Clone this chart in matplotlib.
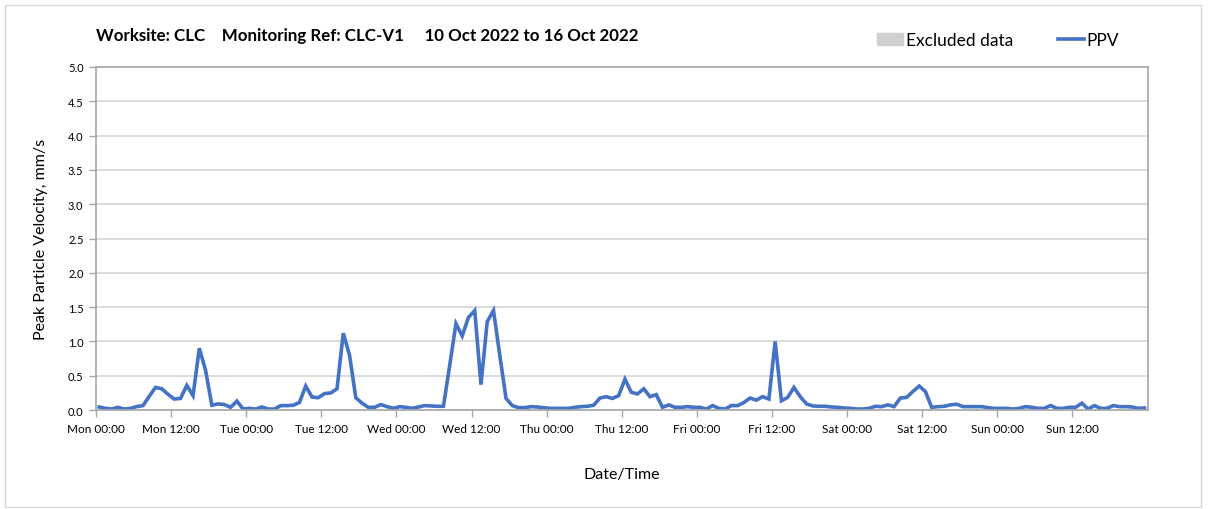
import matplotlib.pyplot as plt
import matplotlib.patches as mpatches
from matplotlib.lines import Line2D
import numpy as np

plt.rcParams['font.family'] = ['Lato', 'DejaVu Sans']

# hourly PPV readings, Mon 10 Oct 00:00 .. Sun 16 Oct 23:00 (mm/s)
mon = [0.045, 0.025, 0.015, 0.04, 0.015, 0.025, 0.05, 0.065, 0.20, 0.33, 0.31, 0.23,
       0.16, 0.17, 0.36, 0.21, 0.90, 0.58, 0.07, 0.09, 0.08, 0.04, 0.13, 0.015]
tue = [0.025, 0.015, 0.045, 0.015, 0.015, 0.065, 0.065, 0.07, 0.11, 0.35, 0.19, 0.18,
       0.24, 0.25, 0.31, 1.12, 0.80, 0.18, 0.10, 0.04, 0.04, 0.08, 0.05, 0.025]
wed = [0.05, 0.04, 0.025, 0.045, 0.065, 0.06, 0.055, 0.055, 0.65, 1.26, 1.08, 1.35,
       1.45, 0.37, 1.29, 1.45, 0.80, 0.17, 0.065, 0.035, 0.035, 0.05, 0.045, 0.035]
thu = [0.025, 0.025, 0.025, 0.025, 0.04, 0.05, 0.055, 0.07, 0.175, 0.195, 0.17, 0.21,
       0.45, 0.26, 0.235, 0.31, 0.195, 0.225, 0.04, 0.075, 0.04, 0.04, 0.05, 0.04]
fri = [0.04, 0.015, 0.065, 0.025, 0.015, 0.065, 0.065, 0.11, 0.175, 0.145, 0.195, 0.16,
       1.0, 0.135, 0.185, 0.33, 0.195, 0.09, 0.06, 0.055, 0.055, 0.045, 0.04, 0.03]
sat = [0.025, 0.015, 0.015, 0.025, 0.055, 0.05, 0.075, 0.05, 0.175, 0.185, 0.27, 0.35,
       0.27, 0.04, 0.05, 0.055, 0.075, 0.085, 0.05, 0.05, 0.05, 0.05, 0.035, 0.025]
sun = [0.025, 0.025, 0.015, 0.025, 0.05, 0.04, 0.025, 0.025, 0.065, 0.025, 0.025, 0.04,
       0.04, 0.10, 0.015, 0.065, 0.025, 0.025, 0.065, 0.05, 0.05, 0.045, 0.025, 0.03]
ppv = np.array(mon + tue + wed + thu + fri + sat + sun)

days = ['Mon', 'Tue', 'Wed', 'Thu', 'Fri', 'Sat', 'Sun']
tick_labels = [f'{d} {t}' for d in days for t in ['00:00', '12:00']]

hours = np.arange(len(ppv)) + 0.5  # readings stamped around half past the hour

fig = plt.figure(figsize=(12.08, 5.10), dpi=100)
ax = fig.add_axes([0.0795, 0.194, 0.8705, 0.6727])

ax.plot(hours, ppv, color='#4472C4', lw=2.6, solid_joinstyle='miter')

ax.set_xlim(0, 168)
ax.set_ylim(0, 5)
ax.set_yticks(np.arange(0, 5.01, 0.5))
ax.set_yticklabels([f'{v:.1f}' for v in np.arange(0, 5.01, 0.5)], fontsize=8)
ax.set_xticks(np.arange(0, 168, 12))
ax.set_xticklabels(tick_labels, fontsize=8.5)
ax.set_xticks(np.arange(24, 168, 24), minor=True)
ax.tick_params(axis='x', which='minor', length=0)
ax.tick_params(axis='both', which='major', color='#a6a6a6', length=5, width=1, pad=4)

ax.grid(axis='y', color='#d9d9d9', lw=1.3)
ax.grid(axis='x', which='minor', color='#d9d9d9', lw=1.3)
ax.set_axisbelow(True)
for s in ax.spines.values():
    s.set_color('#a6a6a6')
    s.set_linewidth(1.2)

ax.set_ylabel('Peak Particle Velocity, mm/s', fontsize=11.5, labelpad=14)
ax.set_xlabel('Date/Time', fontsize=11.5, labelpad=24)

fig.text(96 / 1208, 1 - 36 / 510, 'Worksite: CLC    Monitoring Ref: CLC-V1     10 Oct 2022 to 16 Oct 2022',
         fontsize=12.2, fontweight='bold', va='center', ha='left')

handles = [mpatches.Patch(color='#d0d0d0', label='Excluded data'),
           Line2D([], [], color='#4472C4', lw=2.6, label='PPV')]
fig.legend(handles=handles, loc='center right', bbox_to_anchor=(1128 / 1208, 1 - 41 / 510),
           ncol=2, frameon=False, fontsize=12.5, handlelength=1.5, handletextpad=0.15,
           columnspacing=2.6, borderpad=0)

fig.add_artist(mpatches.Rectangle((5 / 1208, 2 / 510), 1196 / 1208, 502 / 510,
                                  transform=fig.transFigure, fill=False,
                                  edgecolor='#d9d9d9', lw=1))

fig.savefig('out.png', dpi=100)
